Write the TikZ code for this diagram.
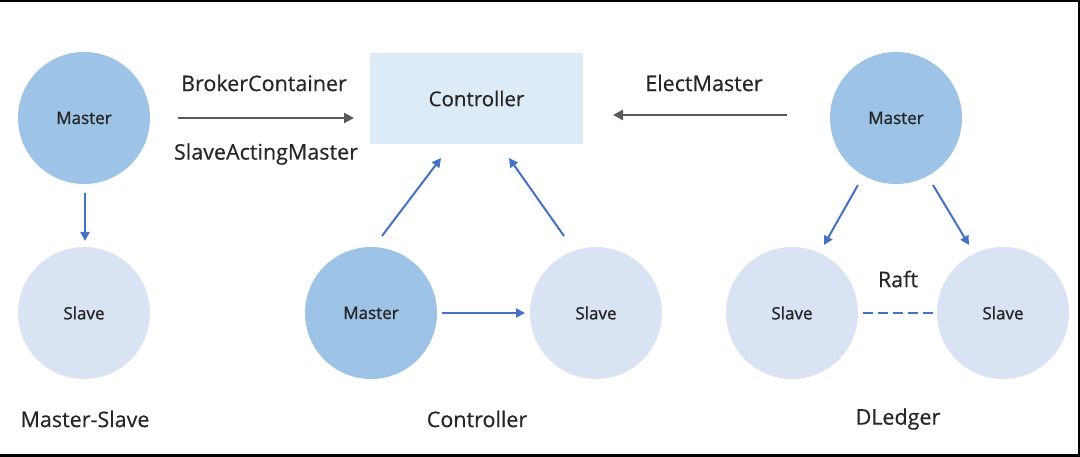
\documentclass[tikz,border=0pt]{standalone}
\usepackage{fontspec}
\setmainfont{Open Sans}
\newfontfamily\nodefont[FakeBold=1.2]{Open Sans}
\newfontfamily\lblfont[FakeBold=0.4]{Open Sans}
\usetikzlibrary{arrows.meta}
\definecolor{masterfill}{HTML}{9DC3E6}
\definecolor{slavefill}{HTML}{DAE3F3}
\definecolor{ctrlfill}{HTML}{DDEBF7}
\definecolor{arrowblue}{HTML}{4472C4}
\definecolor{arrowgray}{HTML}{595959}
\definecolor{txt}{HTML}{262626}
\tikzset{
  master/.style={circle, fill=masterfill, minimum size=132pt, inner sep=0pt, text=txt, font=\nodefont\fontsize{17}{19}\selectfont},
  slave/.style={circle, fill=slavefill, minimum size=132pt, inner sep=0pt, text=txt, font=\nodefont\fontsize{17}{19}\selectfont},
  ctrlbox/.style={rectangle, fill=ctrlfill, minimum width=213pt, minimum height=91pt, inner sep=0pt, text=txt, font=\lblfont\fontsize{20.5}{24}\selectfont},
  lbl/.style={text=txt, font=\lblfont\fontsize{21.5}{25}\selectfont, inner sep=0pt},
  barrow/.style={draw=arrowblue, line width=2pt, -{Triangle[length=9pt,width=9pt]}},
  garrow/.style={draw=arrowgray, line width=2.5pt, -{Triangle[length=10pt,width=10pt]}},
  raftline/.style={draw=arrowblue, line width=2.5pt, dash pattern=on 10pt off 5pt}
}
\begin{document}
\begin{tikzpicture}[x=1pt,y=-1pt]
\fill[black] (0,0) rectangle (1080,457);
\fill[white] (0,2.5) rectangle (1077.5,454);
\useasboundingbox (0,0) rectangle (1080,457);
% Master-Slave
\node[master] (m1) at (84,118) {Master};
\node[slave] (s1) at (84,313) {Slave};
\node[lbl] (l1) at (85,419) {Master-Slave};
\coordinate (m1a) at (85,193);
\coordinate (s1a) at (85,241);
\draw[barrow] (m1a) -- (s1a);
% Controller
\node[ctrlbox] (c) at (476.5,98.5) {Controller};
\node[lbl] (bc) at (264,83) {BrokerContainer};
\node[lbl] (sam) at (266,154) {SlaveActingMaster};
\coordinate (bca) at (178,118);
\coordinate (bcb) at (354,118);
\draw[garrow] (bca) -- (bcb);
\node[master] (m2) at (371,313) {Master};
\node[slave] (s2) at (596,313) {Slave};
\node[lbl] (l2) at (477,419) {Controller};
\coordinate (m2a) at (382,236);
\coordinate (m2b) at (441,158);
\draw[barrow] (m2a) -- (m2b);
\coordinate (s2a) at (564,236);
\coordinate (s2b) at (509,158);
\draw[barrow] (s2a) -- (s2b);
\coordinate (ms2a) at (442,313);
\coordinate (ms2b) at (525,313);
\draw[barrow] (ms2a) -- (ms2b);
% DLedger
\node[lbl] (em) at (704,83) {ElectMaster};
\coordinate (ema) at (787,115);
\coordinate (emb) at (613,115);
\draw[garrow] (ema) -- (emb);
\node[master] (m3) at (896,118) {Master};
\node[slave] (s3) at (792,313) {Slave};
\node[slave] (s4) at (1003,313) {Slave};
\node[lbl] (raft) at (898,279) {Raft};
\node[lbl] (l3) at (898,419) {DLedger};
\coordinate (m3a) at (858,185);
\coordinate (m3b) at (824,245);
\draw[barrow] (m3a) -- (m3b);
\coordinate (m3c) at (933,185);
\coordinate (m3d) at (969,245);
\draw[barrow] (m3c) -- (m3d);
\coordinate (ra) at (863,313);
\coordinate (rb) at (936,313);
\draw[raftline] (ra) -- (rb);
\end{tikzpicture}
\end{document}
